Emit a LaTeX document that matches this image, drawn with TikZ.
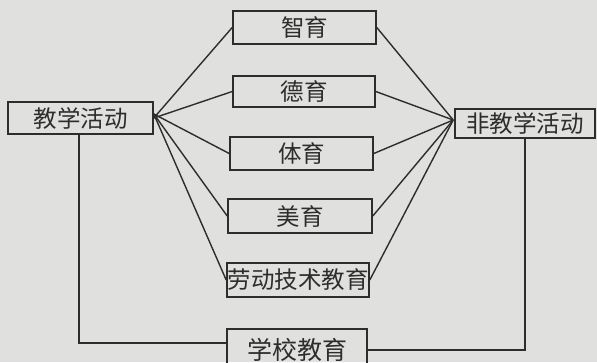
\documentclass[tikz,border=0pt]{standalone}
\usepackage{fontspec}
\newfontfamily\cjk{Noto Sans CJK SC}
\usetikzlibrary{calc}
\definecolor{bg}{RGB}{224,224,222}
\definecolor{ink}{RGB}{45,45,45}
\tikzset{
  box/.style={draw=ink, text=ink, line width=1.6pt, inner sep=0pt, anchor=center,
    font=\cjk\fontsize{23.5}{24}\selectfont},
  link/.style={draw=ink, line width=1.4pt}
}
\begin{document}
\begin{tikzpicture}[x=1pt,y=-1pt]
\fill[bg] (0,0) rectangle (597,362);
\useasboundingbox (0,0) rectangle (597,362);
\node[box, minimum width=145pt, minimum height=32pt] (A) at (80.5,118) {教学活动};
\node[box, minimum width=140pt, minimum height=29pt] (B) at (525,123.5) {非教学活动};
\node[box, minimum width=143pt, minimum height=33pt] (Z) at (304.5,27.5) {智育};
\node[box, minimum width=142pt, minimum height=31pt] (D) at (304,91.5) {德育};
\node[box, minimum width=143pt, minimum height=33pt] (T) at (301.5,153.5) {体育};
\node[box, minimum width=144pt, minimum height=34pt] (M) at (300,216) {美育};
\node[box, minimum width=142pt, minimum height=34pt] (L) at (298,280) {劳动技术教育};
\node[box, minimum width=140pt, minimum height=42pt, font=\cjk\fontsize{25}{25}\selectfont] (S) at (297,350) {学校教育};
\coordinate (Aout) at ($(A.east)+(0,-4)$);
\coordinate (Bin) at ($(B.west)+(-1,-3.5)$);
\draw[link] (A.east) -- (Z.west);
\draw[link] (A.east) -- (D.west);
\draw[link] (Aout) -- (T.west);
\draw[link] (Aout) -- (M.west);
\draw[link] (Aout) -- (L.west);
\draw[link] (Z.east) -- (Bin);
\draw[link] (D.east) -- (Bin);
\draw[link] (T.east) -- (Bin);
\draw[link] (M.east) -- (Bin);
\draw[link] (L.east) -- (Bin);
\draw[link] ([xshift=-1.5pt]A.south) |- ([yshift=7pt]S.west);
\draw[link] (S.east) -| (B.south);
\end{tikzpicture}
\end{document}
